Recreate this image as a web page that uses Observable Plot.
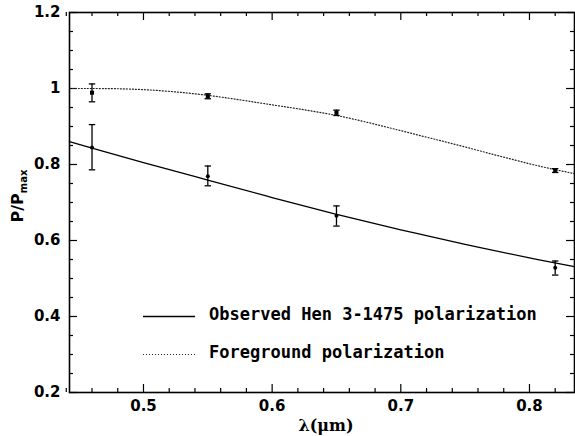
<!DOCTYPE html>
<html>
<head>
<meta charset="utf-8">
<script src="https://cdn.jsdelivr.net/npm/d3@7"></script>
<script src="https://cdn.jsdelivr.net/npm/@observablehq/plot@0.6"></script>
<style>
  html, body { margin: 0; padding: 0; background: #fff; }
  #chart { width: 575px; height: 436px; }
</style>
</head>
<body>
<div id="chart"></div>
<script>
// ---- data ----
const lambdaObs = [0.46, 0.55, 0.65, 0.82];
const obsP  = [0.845, 0.769, 0.665, 0.528];
const obsLo = [0.786, 0.744, 0.638, 0.509];
const obsHi = [0.905, 0.796, 0.691, 0.546];

const fgP  = [0.989, 0.980, 0.936, 0.784];
const fgLo = [0.965, 0.973, 0.929, 0.779];
const fgHi = [1.012, 0.986, 0.943, 0.789];

const fitLambda = [0.4425, 0.46, 0.50, 0.55, 0.60, 0.65, 0.70, 0.75, 0.80, 0.835];
const obsFit = [0.860, 0.843, 0.805, 0.759, 0.713, 0.669, 0.628, 0.590, 0.554, 0.531];
const fgFit  = [1.000, 1.000, 0.997, 0.982, 0.957, 0.929, 0.889, 0.846, 0.802, 0.776];

const xMajor = [0.5, 0.6, 0.7, 0.8];
const xMajorLabels = ["0.5", "0.6", "0.7", "0.8"];
const xMinor = [0.44, 0.46, 0.48, 0.52, 0.54, 0.56, 0.58, 0.62, 0.64, 0.66, 0.68, 0.72, 0.74, 0.76, 0.78, 0.82];
const yMajor = [0.2, 0.4, 0.6, 0.8, 1.0, 1.2];
const yMajorLabels = ["0.2", "0.4", "0.6", "0.8", "1", "1.2"];
const yMinor = [0.25, 0.3, 0.35, 0.45, 0.5, 0.55, 0.65, 0.7, 0.75, 0.85, 0.9, 0.95, 1.05, 1.1, 1.15];

const legendLabels = ["Observed Hen 3-1475 polarization", "Foreground polarization"];
const legendY = [0.4, 0.3];

// ---- tables ----
const obs = lambdaObs.map((x, i) => ({x, y: obsP[i], lo: obsLo[i], hi: obsHi[i]}));
const fg = lambdaObs.map((x, i) => ({x, y: fgP[i], lo: fgLo[i], hi: fgHi[i]}));
const obsCurve = fitLambda.map((x, i) => ({x, y: obsFit[i]}));
const fgCurve = fitLambda.map((x, i) => ({x, y: fgFit[i]}));

const W = 575, H = 436;
const mL = 69, mR = 1, mT = 12, mB = 44;
const innerW = W - mL - mR, innerH = H - mT - mB;

const cap = { draw(ctx, size) { const r = Math.sqrt(size / Math.PI); ctx.moveTo(-r, 0); ctx.lineTo(r, 0); } };

const labelFont = "DejaVu Sans";

const plot = Plot.plot({
  width: W, height: H,
  marginLeft: mL, marginRight: mR, marginTop: mT, marginBottom: mB,
  style: { fontFamily: labelFont, background: "white", overflow: "visible" },
  x: { domain: [0.4425, 0.835], axis: null },
  y: { domain: [0.2, 1.2], axis: null },
  marks: [
    // ticks (inward, all four sides)
    Plot.ruleX(xMajor, { x: d => d, insetTop: innerH - 8, stroke: "black", strokeWidth: 1.2 }),
    Plot.ruleX(xMajor, { x: d => d, insetBottom: innerH - 8, stroke: "black", strokeWidth: 1.2 }),
    Plot.ruleX(xMinor, { x: d => d, insetTop: innerH - 4, stroke: "black", strokeWidth: 1.2 }),
    Plot.ruleX(xMinor, { x: d => d, insetBottom: innerH - 4, stroke: "black", strokeWidth: 1.2 }),
    Plot.ruleY(yMajor, { y: d => d, insetRight: innerW - 8, stroke: "black", strokeWidth: 1.2 }),
    Plot.ruleY(yMajor, { y: d => d, insetLeft: innerW - 8, stroke: "black", strokeWidth: 1.2 }),
    Plot.ruleY(yMinor, { y: d => d, insetRight: innerW - 4, stroke: "black", strokeWidth: 1.2 }),
    Plot.ruleY(yMinor, { y: d => d, insetLeft: innerW - 4, stroke: "black", strokeWidth: 1.2 }),
    // tick labels
    Plot.text(xMajor, { x: d => d, text: (d, i) => xMajorLabels[i], frameAnchor: "bottom", dy: 14, fontSize: 15, fontWeight: "bold", fill: "black", lineAnchor: "middle" }),
    Plot.text(yMajor, { y: d => d, text: (d, i) => yMajorLabels[i], frameAnchor: "left", dx: -9, textAnchor: "end", fontSize: 15, fontWeight: "bold", fill: "black", lineAnchor: "middle" }),
    // x axis label
    Plot.text(["λ(μm)"], { frameAnchor: "bottom", dx: 4, dy: 33, fontSize: 16, fontWeight: "bold", fill: "black", lineAnchor: "middle", fontFamily: "DejaVu Serif" }),
    // fitted curves
    Plot.line(obsCurve, { x: "x", y: "y", curve: "natural", stroke: "black", strokeWidth: 1.3 }),
    Plot.line(fgCurve, { x: "x", y: "y", curve: "natural", stroke: "#222", strokeWidth: 1.2, strokeDasharray: "1,2" }),
    // error bars
    Plot.ruleX(obs, { x: "x", y1: "lo", y2: "hi", stroke: "black", strokeWidth: 1.3 }),
    Plot.dot(obs, { x: "x", y: "lo", symbol: cap, r: 3.2, stroke: "black", strokeWidth: 1.3, fill: "none" }),
    Plot.dot(obs, { x: "x", y: "hi", symbol: cap, r: 3.2, stroke: "black", strokeWidth: 1.3, fill: "none" }),
    Plot.ruleX(fg, { x: "x", y1: "lo", y2: "hi", stroke: "black", strokeWidth: 1.3 }),
    Plot.dot(fg, { x: "x", y: "lo", symbol: cap, r: 3.2, stroke: "black", strokeWidth: 1.3, fill: "none" }),
    Plot.dot(fg, { x: "x", y: "hi", symbol: cap, r: 3.2, stroke: "black", strokeWidth: 1.3, fill: "none" }),
    // points
    Plot.dot(obs, { x: "x", y: "y", symbol: "circle", r: 2, fill: "black", stroke: "none" }),
    Plot.dot(fg, { x: "x", y: "y", symbol: "square", r: 2.3, fill: "black", stroke: "none" }),
    // legend
    Plot.ruleY([legendY[0]], { y: d => d, x1: 0.5, x2: 0.5405, stroke: "black", strokeWidth: 1.3 }),
    Plot.ruleY([legendY[1]], { y: d => d, x1: 0.5, x2: 0.5405, stroke: "#222", strokeWidth: 1.2, strokeDasharray: "1,2" }),
    Plot.text(legendLabels, { x: 0.551, y: (d, i) => legendY[i], dy: -2, textAnchor: "start", lineAnchor: "middle", fontSize: 17, fontWeight: "bold", fontFamily: "DejaVu Sans Mono", fill: "black" }),
    // frame
    Plot.frame({ stroke: "black", strokeWidth: 1.6 })
  ]
});

// y axis label with subscript
const svg = d3.select(plot);
const yl = svg.append("text")
  .attr("transform", "translate(23,196) rotate(-90)")
  .attr("text-anchor", "middle")
  .attr("font-family", labelFont)
  .attr("font-weight", "bold")
  .attr("font-size", 16)
  .attr("fill", "black");
yl.append("tspan").text("P/P");
yl.append("tspan").attr("font-size", 10).attr("dy", 4).text("max");

document.getElementById("chart").appendChild(plot);
</script>
</body>
</html>
